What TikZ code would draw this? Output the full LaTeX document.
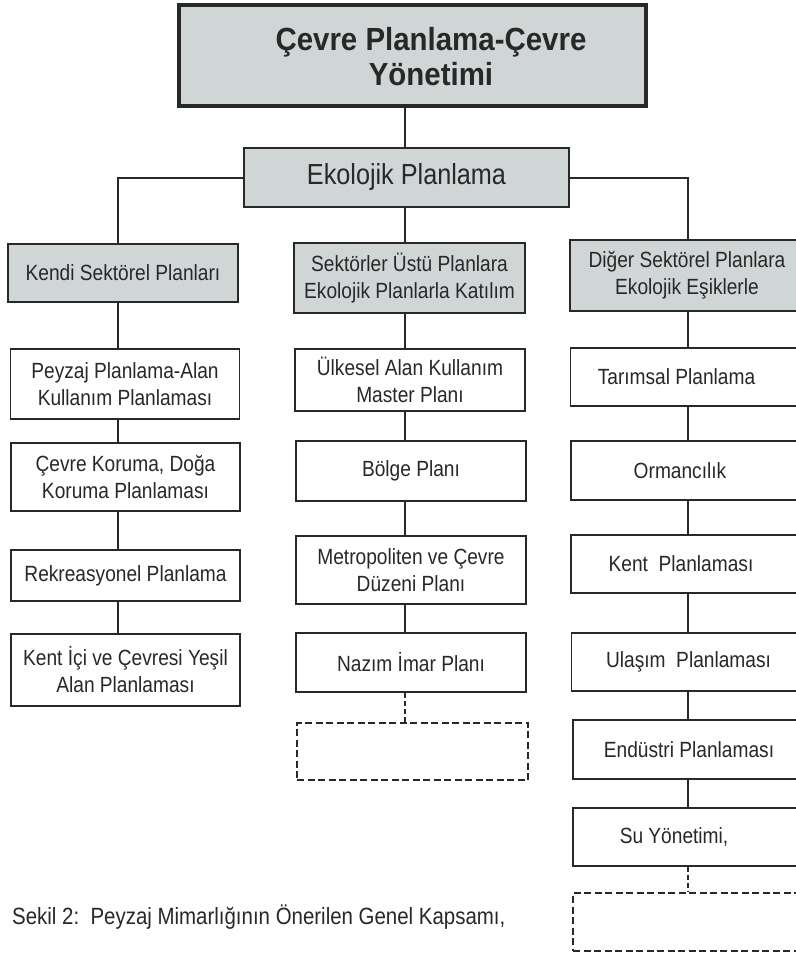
\documentclass[tikz,border=0pt]{standalone}
\usepackage{fontspec}
\setmainfont{Liberation Sans}[FakeStretch=0.87]
\newfontfamily\titlefont{Liberation Sans}[FakeStretch=0.92]
\definecolor{boxgray}{RGB}{208,214,214}
\definecolor{ink}{RGB}{40,40,40}
\tikzset{
  box/.style={draw=ink, line width=1.8pt, fill=white, align=center, inner sep=0pt,
    font={\fontsize{22}{27}\selectfont}, text=ink},
  hdr/.style={box, fill=boxgray},
  dbox/.style={draw=ink, line width=1.8pt, dash pattern=on 7pt off 3.5pt, inner sep=0pt},
  link/.style={draw=ink, line width=2pt},
  dlink/.style={draw=ink, line width=2pt, dash pattern=on 5pt off 3pt},
}
\begin{document}
\begin{tikzpicture}[x=1pt,y=-1pt]
\useasboundingbox[fill=white] (0,0) rectangle (795,955);
% column line positions
\coordinate (lx) at (118,0);
\coordinate (mx) at (405,0);
\coordinate (rx) at (688,0);
% top
\node[draw=ink, line width=3.8pt, fill=boxgray, minimum width=467pt, minimum height=101pt, inner sep=0pt] (top) at (412.5,55.5) {};
\node[font={\titlefont\bfseries\fontsize{32}{35}\selectfont}, text=ink, align=center, inner sep=0pt] (toptext) at (431,57) {Çevre Planlama-Çevre\\Yönetimi};
\node[hdr, minimum width=325pt, minimum height=59pt, font={\fontsize{29}{34}\selectfont}] (eko) at (406.5,177.5) {Ekolojik Planlama};
% headers
\node[hdr, minimum width=230pt, minimum height=58pt] (hdrL) at (123,273) {Kendi Sektörel Planları};
\node[hdr, minimum width=231pt, minimum height=70pt] (hdrM) at (409.5,278) {Sektörler Üstü Planlara\\Ekolojik Planlarla Katılım};
\node[hdr, minimum width=234pt, minimum height=71pt] (hdrR) at (687,275.5) {Diğer Sektörel Planlara\\Ekolojik Eşiklerle};
% left column
\node[box, minimum width=229pt, minimum height=70pt] (peyzaj) at (125,384) {Peyzaj Planlama-Alan\\Kullanım Planlaması};
\node[box, minimum width=229pt, minimum height=68pt] (cevre) at (125.5,477) {Çevre Koruma, Doğa\\Koruma Planlaması};
\node[box, minimum width=229pt, minimum height=51pt] (rekr) at (125.5,575.5) {Rekreasyonel Planlama};
\node[box, minimum width=229pt, minimum height=72pt] (kentici) at (125.5,670) {Kent İçi ve Çevresi Yeşil\\Alan Planlaması};
% middle column
\node[box, minimum width=230pt, minimum height=62pt] (ulke) at (410,380) {Ülkesel Alan Kullanım\\Master Planı};
\node[box, minimum width=230pt, minimum height=60pt] (bolge) at (411,471) {Bölge Planı};
\node[box, minimum width=230pt, minimum height=68pt] (metro) at (411,570) {Metropoliten ve Çevre\\Düzeni Planı};
\node[box, minimum width=230pt, minimum height=59pt] (nazim) at (411,662.5) {Nazım İmar Planı};
\node[dbox, minimum width=231pt, minimum height=57pt] (dashM) at (412.5,751.5) {};
% right column
\node[box, minimum width=234pt, minimum height=58pt] (tarim) at (687.5,377) {Tarımsal Planlama\hspace{22pt}};
\node[box, minimum width=234pt, minimum height=59pt] (orman) at (688,470.5) {Ormancılık\hspace{16pt}};
\node[box, minimum width=234pt, minimum height=58pt] (kent) at (688,564) {Kent\ \ Planlaması\hspace{14pt}};
\node[box, minimum width=234pt, minimum height=58pt] (ulasim) at (688.5,662) {Ulaşım\ \ Planlaması};
\node[box, minimum width=232pt, minimum height=59pt] (endustri) at (689,749.5) {Endüstri Planlaması};
\node[box, minimum width=232pt, minimum height=58pt] (su) at (689,837) {Su Yönetimi,\hspace{30pt}};
\node[dbox, minimum width=232pt, minimum height=58pt] (dashR) at (689,922) {};
% caption
\node[anchor=west, inner sep=0pt, font={\fontsize{23.5}{27}\selectfont}, text=ink] (caption) at (12,917) {Sekil 2:\ \ Peyzaj Mimarlığının Önerilen Genel Kapsamı,};
% connectors
\draw[link] (top.south -| mx) -- (eko.north -| mx);
\draw[link] (eko.south -| mx) -- (hdrM.north -| mx);
\draw[link] (eko.west) -- (eko.west -| lx) -- (hdrL.north -| lx);
\draw[link] (eko.east) -- (eko.east -| rx) -- (hdrR.north -| rx);
\draw[link] (hdrL.south -| lx) -- (peyzaj.north -| lx);
\draw[link] (peyzaj.south -| lx) -- (cevre.north -| lx);
\draw[link] (cevre.south -| lx) -- (rekr.north -| lx);
\draw[link] (rekr.south -| lx) -- (kentici.north -| lx);
\draw[link] (hdrM.south -| mx) -- (ulke.north -| mx);
\draw[link] (ulke.south -| mx) -- (bolge.north -| mx);
\draw[link] (bolge.south -| mx) -- (metro.north -| mx);
\draw[link] (metro.south -| mx) -- (nazim.north -| mx);
\draw[dlink] (nazim.south -| mx) -- (dashM.north -| mx);
\draw[link] (hdrR.south -| rx) -- (tarim.north -| rx);
\draw[link] (tarim.south -| rx) -- (orman.north -| rx);
\draw[link] (orman.south -| rx) -- (kent.north -| rx);
\draw[link] (kent.south -| rx) -- (ulasim.north -| rx);
\draw[link] (ulasim.south -| rx) -- (endustri.north -| rx);
\draw[link] (endustri.south -| rx) -- (su.north -| rx);
\draw[dlink] (su.south -| rx) -- (dashR.north -| rx);
\end{tikzpicture}
\end{document}
